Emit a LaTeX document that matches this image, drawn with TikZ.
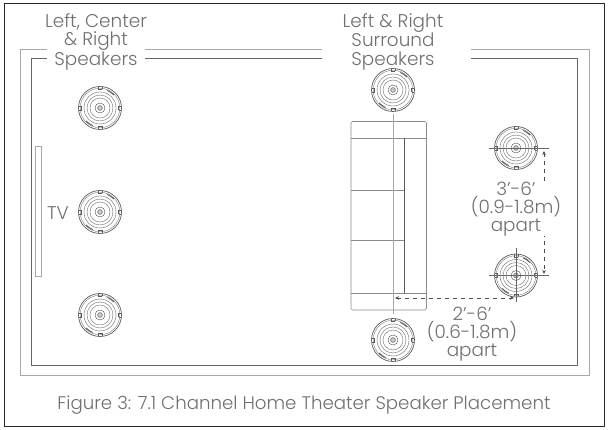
\documentclass[tikz,border=0pt]{standalone}
\usepackage{fontspec}
\setmainfont{Poppins}[UprightFont=* Light]
\usetikzlibrary{arrows.meta}
\definecolor{txt}{HTML}{707070}
\definecolor{ln}{HTML}{5A5A5A}
\definecolor{wallA}{HTML}{A8A8A8}
\definecolor{wallB}{HTML}{666666}
\tikzset{
  lab/.style={text=txt,font=\fontsize{18.4}{18.3}\selectfont,align=center,inner sep=0pt},
  dim/.style={draw=black!70,line width=.6pt,dash pattern=on 4pt off 4pt,{Stealth[length=4pt,width=3.5pt]}-{Stealth[length=4pt,width=3.5pt]}},
  spk/.pic={
    \draw[ln,line width=.7pt] (0,0) circle (21.5);
    \draw[ln,line width=.3pt] (0,0) circle (19.8);
    \foreach \r in {16,13,10} \draw[ln,line width=.35pt] (0,0) circle (\r);
    \draw[ln,line width=.45pt] (0,0) circle (5);
    \draw[ln,line width=.5pt,fill=black!20] (0,0) circle (2.4);
    \foreach \a in {0,90,180,270} {
      \draw[ln,line width=.4pt,rotate=\a] (18.5,-2) -- (21,-2) (18.5,2) -- (21,2) (18.5,-2) -- (18.5,2);
    }
    \foreach \a in {55,235} \draw[ln,line width=.9pt,rotate=\a] (18.6,-4) arc[start angle=-12,end angle=12,radius=19];
  }
}
\begin{document}
\begin{tikzpicture}[x=1pt,y=-1pt]
\useasboundingbox (0,0) rectangle (608,430);
\fill[white] (0,0) rectangle (608,430);
% frame
\draw[black!85,line width=1pt] (4,3.5) rectangle (604,426.5);
% walls
\draw[wallA,line width=.9pt] (47,49.5) -- (20,49.5) -- (20,375) -- (589,375) -- (589,49.5) -- (471,49.5) (322,49.5) -- (145,49.5);
\draw[wallB,line width=.9pt] (47,58.5) -- (31,58.5) -- (31,365) -- (577.5,365) -- (577.5,58.5) -- (471,58.5) (322,58.5) -- (145,58.5);
% TV
\draw[wallA,line width=.9pt] (35.5,146) rectangle (41.5,276);
\node[lab] (tv) at (58,213) {TV};
% sofa
\draw[ln!70,line width=.6pt,rounded corners=1.5pt] (351,121.5) rectangle (426.5,310);
\draw[ln!70,line width=.6pt] (351,138) -- (426.5,138) (351,293) -- (426.5,293) (351,190.5) -- (404,190.5) (351,240.5) -- (404,240.5);
\draw[ln,line width=.9pt] (404,138) -- (404,293);
\draw[wallA,line width=1pt] (393,114) -- (393,314);
% speakers
\pic at (100,108) {spk};
\pic at (100,212) {spk};
\pic at (100,315) {spk};
\pic at (393,90) {spk};
\pic at (393,340) {spk};
\pic at (516,148) {spk};
\pic at (516,275.5) {spk};
% crosshairs
\draw[wallB,line width=.6pt] (489,148) -- (549,148) (489,275.5) -- (549,275.5) (516,248) -- (516,302);
% dimensions
\coordinate (vA) at (544,151);
\coordinate (vB) at (544,274);
\coordinate (hA) at (395,298);
\coordinate (hB) at (514,298);
\draw[dim] (vA) -- (vB);
\draw[dim] (hA) -- (hB);
% labels
\node[lab] (l1) at (96,41.5) {Left, Center\\\& Right\\Speakers};
\node[lab] (l2) at (393,41.5) {Left \& Right\\Surround\\Speakers};
\node[lab,fill=white] (l3) at (516,209) {3’-6’\\(0.9-1.8m)\\apart};
\node[lab] (l4) at (472,334) {2’-6’\\(0.6-1.8m)\\apart};
\node[lab,font=\fontsize{18.2}{18}\selectfont] (cap) at (304,405) {Figure 3: 7.1 Channel Home Theater Speaker Placement};
\end{tikzpicture}
\end{document}
